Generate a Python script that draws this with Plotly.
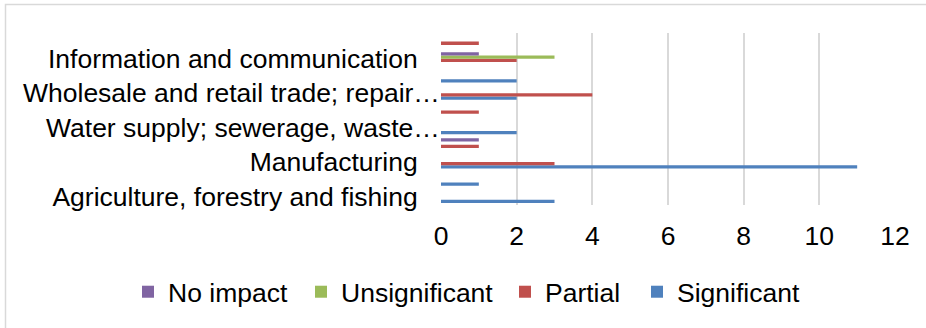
import plotly.graph_objects as go

# Industry sectors, bottom to top on the category axis
sectors = [
    "Agriculture, forestry and fishing",
    "Mining and quarrying",
    "Manufacturing",
    "Electricity, gas, steam and air conditioning supply",
    "Water supply; sewerage, waste management and remediation activities",
    "Construction",
    "Wholesale and retail trade; repair of motor vehicles and motorcycles",
    "Transportation and storage",
    "Information and communication",
    "Financial and insurance activities",
]
# Only every other sector name fits on the axis; long names are cut short
tick_sectors = [0, 2, 8]
tick_labels = [
    "Agriculture, forestry and fishing",
    "Manufacturing",
    "Information and communication",
]
cut_sectors = [4, 6]
cut_labels = [
    "Water supply; sewerage, waste…",
    "Wholesale and retail trade; repair…",
]

significant = [3, 1, 11, 0, 2, 0, 2, 2, 0, 0]
partial = [0, 0, 3, 1, 0, 1, 4, 0, 2, 1]
unsignificant = [0, 0, 0, 0, 0, 0, 0, 0, 3, 0]
no_impact = [0, 0, 0, 1, 0, 0, 0, 0, 1, 0]

x_ticks = [0, 2, 4, 6, 8, 10, 12]

# name, values, colour, legend id, x where the legend entry text starts
series = [
    ("Significant", significant, "#4F81BD", "legend4", 677),
    ("Partial", partial, "#C0504D", "legend3", 545),
    ("Unsignificant", unsignificant, "#9BBB59", "legend2", 341),
    ("No impact", no_impact, "#8064A2", "legend", 168),
]

FONT = "Liberation Sans, Arial, sans-serif"
FS = 26.5
W, H = 926, 328
L, R, T, B = 441, 31, 33, 123
pw, ph = W - L - R, H - T - B

fig = go.Figure()
for name, vals, color, leg, _ in series:
    fig.add_trace(go.Bar(
        y=list(range(len(sectors))),
        x=vals,
        name=name,
        orientation="h",
        marker=dict(color=color, line=dict(width=0)),
        hovertext=sectors,
        legend=leg,
    ))

def px_x(p):
    return (p - L) / pw

def px_y(p):
    return (H - B - p) / ph

# Light chart-area border (top and left edges visible)
fig.add_shape(
    type="rect", xref="paper", yref="paper",
    x0=px_x(5.5), x1=px_x(W + 10), y0=px_y(H + 10), y1=px_y(4.5),
    line=dict(color="#d9d9d9", width=1.5), fillcolor="rgba(0,0,0,0)",
    layer="below",
)

# Truncated category names end right at the value axis
for s, lab in zip(cut_sectors, cut_labels):
    fig.add_annotation(
        x=0, xref="paper", xanchor="right", y=s, yref="y", yanchor="middle",
        text=lab, showarrow=False, font=dict(size=FS), xshift=1,
    )

legends = {}
for name, _, _, leg, text_x in series:
    legends[leg] = dict(
        orientation="h",
        xref="container", yref="container",
        x=(text_x - 40) / W, xanchor="left",
        y=1 - 292 / H, yanchor="middle",
        font=dict(size=FS), itemwidth=30,
        bgcolor="rgba(0,0,0,0)",
    )

fig.update_layout(
    width=W, height=H,
    margin=dict(l=L, r=R, t=T, b=B, pad=0, autoexpand=False),
    paper_bgcolor="white", plot_bgcolor="white",
    barmode="group", bargap=0.23, bargroupgap=0,
    font=dict(family=FONT, size=FS, color="#000000"),
    showlegend=True,
    xaxis=dict(
        range=[0, 12], tickvals=x_ticks,
        showgrid=True, gridcolor="#d9d9d9", gridwidth=1.5,
        zeroline=False, showline=False, automargin=False,
        ticks="outside", ticklen=7, tickcolor="rgba(0,0,0,0)",
        tickfont=dict(size=FS),
    ),
    yaxis=dict(
        range=[-0.5, len(sectors) - 0.5],
        tickvals=tick_sectors, ticktext=tick_labels,
        showgrid=False, zeroline=False, showline=False, automargin=False,
        ticks="outside", ticklen=17, tickcolor="rgba(0,0,0,0)",
        tickfont=dict(size=FS),
    ),
    **legends,
)

fig.write_html("out.html")
